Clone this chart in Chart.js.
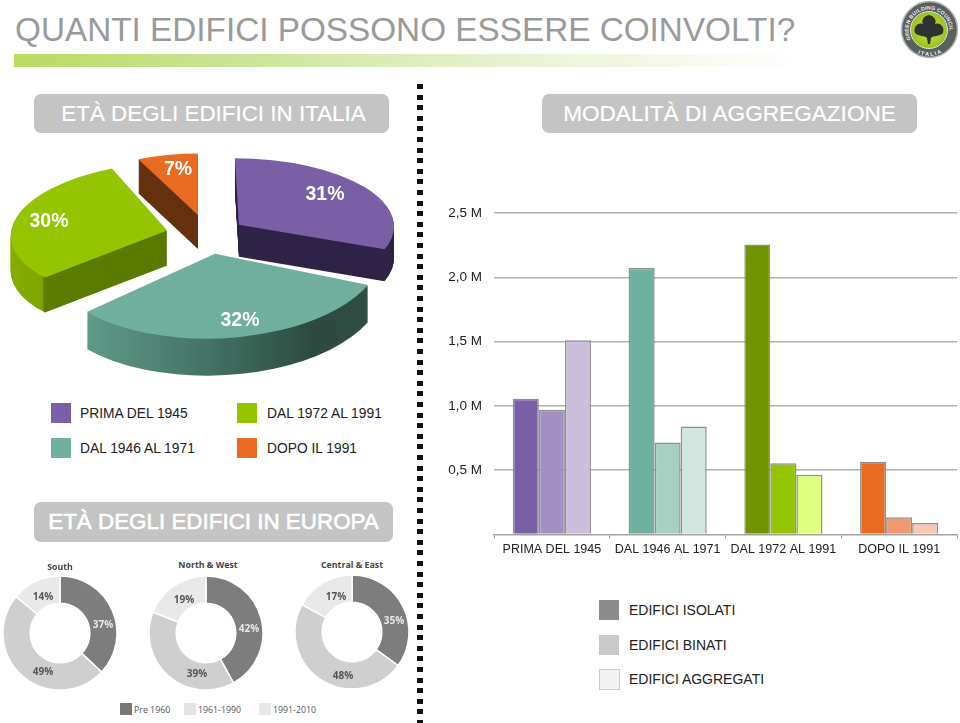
<!DOCTYPE html>
<html><head><meta charset="utf-8">
<script src="https://cdn.jsdelivr.net/npm/chart.js@4"></script>
<style>
html,body{margin:0;padding:0;background:#fff;width:960px;height:723px;overflow:hidden}
body{position:relative;font-family:"Liberation Sans",Arial,sans-serif}
canvas{position:absolute;display:block}
.t{position:absolute;white-space:nowrap;line-height:1}
.pill{position:absolute;background:#c4c4c4;border-radius:7px;color:#fff;font-size:22.6px;display:flex;align-items:center;justify-content:center;white-space:nowrap;-webkit-text-stroke:.2px #fff}
.sw{position:absolute}
.pct{position:absolute;color:#fff;font-weight:bold;font-size:19.5px;transform:translate(-50%,-50%);line-height:1}
.dl{position:absolute;font-family:"Open Sans";font-weight:700;font-size:10px;color:#555;transform:translate(-50%,-50%);line-height:1}
.dt{position:absolute;font-family:"Open Sans";font-weight:700;font-size:8.8px;color:#444;transform:translate(-50%,-50%);line-height:1;white-space:nowrap}
.dk{position:absolute;font-family:"Open Sans";font-size:8.8px;color:#555;transform:translate(0,-50%);line-height:1;white-space:nowrap}
.lg{font-size:13.8px;color:#222}
</style></head><body>
<div class="t" style="left:15px;top:13px;font-size:33.3px;color:#9a9a9a">QUANTI EDIFICI POSSONO ESSERE COINVOLTI?</div>
<div style="position:absolute;left:14px;top:54px;width:790px;height:13px;background:linear-gradient(90deg,#b9dc62 0%,#cde49a 30%,#e6f1cc 60%,#f6faee 85%,#fff 100%)"></div>

<svg style="position:absolute;left:899px;top:0" width="61" height="60" viewBox="0 0 61 60">
<defs><path id="ringT" d="M12.200 40.250 A20.500 20.500 0 1 1 47.800 40.250"/><path id="ringB" d="M13.300 49.900 A26 26 0 0 0 46.700 49.900"/>
<radialGradient id="lg"><stop offset="0" stop-color="#d0e646"/><stop offset="1" stop-color="#98bf22"/></radialGradient></defs>
<circle cx="30.500" cy="29.500" r="28" fill="#5a5f60" stroke="#b4b8b9" stroke-width="1.500"/>
<circle cx="30" cy="30" r="18.500" fill="url(#lg)" stroke="#e4e4e4" stroke-width="1"/>
<path d="M30 15 C35 16 38 20 36 24 C41 22 46 27 44 33 C40 37 35 35 32 38 L31 44 L29 44 L28 38 C25 35 20 37 16 33 C14 27 19 22 24 24 C22 20 25 16 30 15Z" fill="#2e3230"/>
<text font-family="Liberation Sans" font-weight="bold" font-size="5.200" fill="#f0f0f0" letter-spacing=".2"><textPath href="#ringT" startOffset="1%">GREEN BUILDING COUNCIL</textPath></text>
<text font-family="Liberation Sans" font-weight="bold" font-size="5.500" fill="#f0f0f0" letter-spacing="1.500"><textPath href="#ringB" startOffset="18%">ITALIA</textPath></text>
</svg>

<div class="pill" style="left:34px;top:94px;width:351px;height:39px;padding-left:4px;font-size:22.4px">ETÀ DEGLI EDIFICI IN ITALIA</div>
<div class="pill" style="left:542px;top:94px;width:375px;height:39px">MODALITÀ DI AGGREGAZIONE</div>
<div class="pill" style="left:34px;top:502px;width:359px;height:40px;font-size:22.4px;-webkit-text-stroke:.6px #fff">ETÀ DEGLI EDIFICI IN EUROPA</div>

<div style="position:absolute;left:417px;top:84px;width:6px;height:639px;background:repeating-linear-gradient(180deg,#111 0,#111 5px,transparent 5px,transparent 10.6px)"></div>

<canvas id="pie3d" style="left:0;top:88px" width="415" height="292"></canvas>
<div class="pct" style="left:178px;top:169px">7%</div>
<div class="pct" style="left:325px;top:194px">31%</div>
<div class="pct" style="left:240px;top:320px">32%</div>
<div class="pct" style="left:49px;top:221px">30%</div>

<div class="sw" style="left:51px;top:403px;width:20px;height:20px;background:#7b5fa6"></div>
<div class="t lg" style="left:80px;top:407px">PRIMA DEL 1945</div>
<div class="sw" style="left:237px;top:403px;width:20px;height:20px;background:#93c500"></div>
<div class="t lg" style="left:267px;top:407px">DAL 1972 AL 1991</div>
<div class="sw" style="left:51px;top:438px;width:20px;height:20px;background:#70b0a0"></div>
<div class="t lg" style="left:80px;top:442px">DAL 1946 AL 1971</div>
<div class="sw" style="left:237px;top:438px;width:20px;height:20px;background:#e96b22"></div>
<div class="t lg" style="left:267px;top:442px">DOPO IL 1991</div>

<canvas id="barChart" style="left:420px;top:193px" width="540" height="377"></canvas>

<div class="sw" style="left:599px;top:600px;width:20px;height:20px;background:#8c8c8c"></div>
<div class="t" style="left:629px;top:603px;font-size:14px;color:#222">EDIFICI ISOLATI</div>
<div class="sw" style="left:599px;top:635px;width:20px;height:20px;background:#c9c9c9"></div>
<div class="t" style="left:629px;top:638px;font-size:14px;color:#222">EDIFICI BINATI</div>
<div class="sw" style="left:599px;top:669px;width:19px;height:19px;background:#f3f3f3;border:1px solid #ccc"></div>
<div class="t" style="left:629px;top:672px;font-size:14px;color:#222">EDIFICI AGGREGATI</div>

<canvas id="dSouth" style="left:0;top:573px" width="120" height="120"></canvas>
<canvas id="dNorth" style="left:146px;top:573px" width="120" height="120"></canvas>
<canvas id="dCentral" style="left:292px;top:572px" width="120" height="120"></canvas>
<div class="dt" style="left:60px;top:567px">South</div>
<div class="dt" style="left:208px;top:565px">North &amp; West</div>
<div class="dt" style="left:352px;top:565px">Central &amp; East</div>
<div class="dl" style="left:43px;top:596px">14%</div>
<div class="dl" style="left:103px;top:624px;color:#e8e8e8">37%</div>
<div class="dl" style="left:43px;top:671px">49%</div>
<div class="dl" style="left:184px;top:599px">19%</div>
<div class="dl" style="left:249px;top:628px;color:#e8e8e8">42%</div>
<div class="dl" style="left:197px;top:673px">39%</div>
<div class="dl" style="left:336px;top:596px">17%</div>
<div class="dl" style="left:394px;top:620px;color:#e8e8e8">35%</div>
<div class="dl" style="left:343px;top:675px">48%</div>
<div class="sw" style="left:120px;top:703px;width:12px;height:12px;background:#777"></div>
<div class="dk" style="left:134px;top:710px">Pre 1960</div>
<div class="sw" style="left:184px;top:703px;width:12px;height:12px;background:#e4e4e4"></div>
<div class="dk" style="left:198px;top:710px">1961-1990</div>
<div class="sw" style="left:259px;top:703px;width:12px;height:12px;background:#e8e8e8"></div>
<div class="dk" style="left:273px;top:710px">1991-2010</div>

<script>
const pieLabels = ['PRIMA DEL 1945','DAL 1946 AL 1971','DAL 1972 AL 1991','DOPO IL 1991'];
const pieValues = [31,32,30,7];
const pieColors = ['#7b5fa6','#70ae9e','#93c500','#e96b22'];

const barCategories = ['PRIMA DEL 1945','DAL 1946 AL 1971','DAL 1972 AL 1991','DOPO IL 1991'];
const isolati   = [1.055,2.075,2.255,0.565];
const binati    = [0.97,0.715,0.555,0.135];
const aggregati = [1.51,0.84,0.465,0.09];
const isolatiColors   = ['#7b5fa6','#70b0a0','#6f9400','#e96b22'];
const binatiColors    = ['#a48fc3','#a7cfc2','#93c500','#ee9a6e'];
const aggregatiColors = ['#cbbfdd','#d2e6e0','#deff80','#f7c9ae'];
const yTickLabels = ['','0,5 M','1,0 M','1,5 M','2,0 M','2,5 M'];

const southValues   = [37,49,14];
const northValues   = [42,39,19];
const centralValues = [35,48,17];
const donutLabels   = ['Pre 1960','1961-1990','1991-2010'];
const donutColors   = ['#7d7d7d','#cfcfcf','#e9e9e9'];

/* 3D look of the pie: per-slice explode, tilt, size, shear and wall depth */
const sliceExplode = [38,40,41,44];
const sliceTilt    = [0.43,0.505,0.44,0.44];
const sliceRadius  = [155,168,156,140];
const sliceShear   = [0.06,-0.1,-0.18,0];
const sliceDepth   = [32,37,35,34];
const drawOrder    = [3,0,2,1];

const extrude = {
  id:'extrude',
  beforeDatasetDraw(chart){
    const ctx = chart.ctx;
    const arcs = chart.getDatasetMeta(0).data;
    const tg=ctx.createLinearGradient(88,0,369,0);
    tg.addColorStop(0,'#5f9a88');tg.addColorStop(.5,'#3f6b5e');tg.addColorStop(.8,'#2c4a40');tg.addColorStop(1,'#2f4d43');
    const gg=ctx.createLinearGradient(11,0,167,0);
    gg.addColorStop(0,'#86ad00');gg.addColorStop(.2,'#7fa400');gg.addColorStop(.215,'#5c7d00');gg.addColorStop(1,'#587800');
    const side = ['#2f2347',tg,gg,'#64300d'];
    const place=(i,a,ax,ay)=>{
      const k = sliceTilt[i], s = sliceRadius[i]/a.outerRadius;
      ctx.translate(ax,ay);ctx.transform(1,0,sliceShear[i],1,0,0);ctx.scale(s,k*s);ctx.translate(-a.x,-a.y);
    };
    drawOrder.forEach(i=>{
      const a = arcs[i];
      const mid = (a.startAngle+a.endAngle)/2;
      const ax = a.x+Math.cos(mid)*sliceExplode[i];
      const ay = a.y+Math.sin(mid)*sliceExplode[i]*sliceTilt[i];
      for(let d=sliceDepth[i];d>=1;d--){
        ctx.save();
        place(i,a,ax,ay+d);
        ctx.beginPath();ctx.moveTo(a.x,a.y);ctx.arc(a.x,a.y,a.outerRadius,a.startAngle,a.endAngle);ctx.closePath();
        ctx.restore();
        ctx.fillStyle=side[i];ctx.fill();
      }
      ctx.save();
      place(i,a,ax,ay);
      a.draw(ctx);
      ctx.restore();
    });
    return false;
  }
};

Chart.defaults.animation=false;
Chart.defaults.events=[];
Chart.defaults.devicePixelRatio=1;

new Chart(document.getElementById('pie3d'),{
  type:'pie',
  data:{labels:pieLabels,datasets:[{data:pieValues,backgroundColor:pieColors,borderWidth:0}]},
  options:{responsive:false,radius:160,layout:{padding:0},plugins:{legend:{display:false},tooltip:{enabled:false}}},
  plugins:[extrude]
});

function barSet(label,data,colors){
  return {label,data,backgroundColor:colors,borderColor:'#8f8f8f',borderWidth:1.5,categoryPercentage:0.675,barPercentage:1};
}
new Chart(document.getElementById('barChart'),{
  type:'bar',
  data:{labels:barCategories,datasets:[barSet('EDIFICI ISOLATI',isolati,isolatiColors),barSet('EDIFICI BINATI',binati,binatiColors),barSet('EDIFICI AGGREGATI',aggregati,aggregatiColors)]},
  options:{
    responsive:false,
    layout:{padding:{top:0,right:3,left:0,bottom:0}},
    plugins:{legend:{display:false},tooltip:{enabled:false}},
    scales:{
      x:{
        grid:{display:true,drawOnChartArea:false,drawTicks:true,tickLength:4,color:'#9a9a9a'},
        border:{color:'#a3a3a3',width:1.5},
        ticks:{autoSkip:false,maxRotation:0,minRotation:0,padding:4,color:'#222',font:{family:'Liberation Sans',size:12.5}},
        afterFit(s){s.height=35.5;}
      },
      y:{
        min:0,max:2.5,
        grid:{color:c=>c.tick.value===0?'transparent':'#b0b0b0',lineWidth:1.5,drawTicks:false},
        border:{display:false},
        ticks:{stepSize:0.5,padding:12,color:'#222',font:{family:'Liberation Sans',size:13.5},
          callback:(v)=>yTickLabels[Math.round(v*2)]},
        afterFit(s){s.width=74;}
      }
    }
  }
});

function donut(id,values){
  new Chart(document.getElementById(id),{
    type:'doughnut',
    data:{labels:donutLabels,datasets:[{data:values,backgroundColor:donutColors,borderColor:'#fff',borderWidth:1.5}]},
    options:{responsive:false,radius:57,cutout:31,layout:{padding:0},plugins:{legend:{display:false},tooltip:{enabled:false}}}
  });
}
donut('dSouth',southValues);
donut('dNorth',northValues);
donut('dCentral',centralValues);
</script>
</body></html>
